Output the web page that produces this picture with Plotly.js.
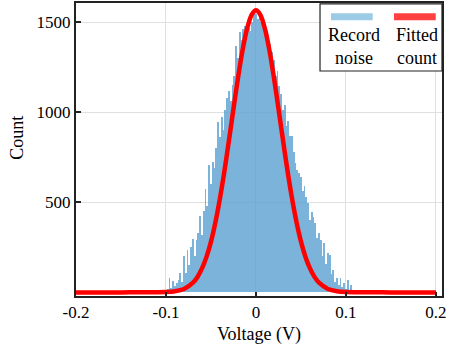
<!DOCTYPE html>
<html>
<head>
<meta charset="utf-8">
<script src="https://cdn.plot.ly/plotly-3.0.1.min.js"></script>
<style>html,body{margin:0;padding:0;background:#fff;}#chart{width:453px;height:347px;}</style>
</head>
<body>
<div id="chart"></div>
<script>
// Histogram bin centers (V) and counts
const binCenters = [
-0.110,-0.108,-0.106,-0.104,-0.102,-0.100,-0.098,-0.096,-0.094,-0.092,
-0.090,-0.088,-0.086,-0.084,-0.082,-0.080,-0.078,-0.076,-0.074,-0.072,
-0.070,-0.068,-0.066,-0.064,-0.062,-0.060,-0.058,-0.056,-0.054,-0.052,
-0.050,-0.048,-0.046,-0.044,-0.042,-0.040,-0.038,-0.036,-0.034,-0.032,
-0.030,-0.028,-0.026,-0.024,-0.022,-0.020,-0.018,-0.016,-0.014,-0.012,
-0.010,-0.008,-0.006,-0.004,-0.002,0.000,0.002,0.004,0.006,0.008,
0.010,0.012,0.014,0.016,0.018,0.020,0.022,0.024,0.026,0.028,
0.030,0.032,0.034,0.036,0.038,0.040,0.042,0.044,0.046,0.048,
0.050,0.052,0.054,0.056,0.058,0.060,0.062,0.064,0.066,0.068,
0.070,0.072,0.074,0.076,0.078,0.080,0.082,0.084,0.086,0.088,
0.090,0.092,0.094,0.096,0.098,0.100,0.102,0.104,0.106,0.108,
0.110,0.112,0.114,0.116,0.118,0.120];
const binCounts = [
5,0,8,12,0,15,20,78,25,63,
35,50,70,107,60,200,110,234,150,250,
295,200,290,330,424,320,451,574,480,708,
600,726,690,800,944,860,975,900,1010,1080,
1120,1060,1150,1200,1367,1300,1444,1400,1460,1480,
1440,1470,1451,1500,1553,1544,1520,1535,1500,1479,
1450,1440,1423,1380,1332,1290,1200,1230,1144,1100,
1014,1040,921,950,870,866,780,719,680,663,
643,560,591,531,496,400,448,420,385,300,
329,290,200,273,160,217,206,100,123,60,
78,40,78,30,50,20,67,15,39,8,
12,5,10,0,6,3];

// Fitted curve points
const fitX = [-0.2,-0.15,-0.1,-0.09,-0.08,-0.07,-0.065,-0.06,-0.055,-0.05,-0.045,-0.04,-0.035,-0.03,-0.025,-0.02,-0.015,-0.01,-0.005,0,
0.005,0.01,0.015,0.02,0.025,0.03,0.035,0.04,0.045,0.05,0.055,0.06,0.065,0.07,0.08,0.09,0.1,0.15,0.2];
const fitY = [0,0,2,6,19,54,86,133,197,282,391,523,676,845,1020,1190,1342,1462,1539,1566,
1539,1462,1342,1190,1020,845,676,523,391,282,197,133,86,54,19,6,2,0,0];

const xTicks = [-0.2,-0.1,0,0.1,0.2];
const xTickText = ['-0.2','-0.1','0','0.1','0.2'];
const yTicks = [500,1000,1500];
const yTickText = ['500','1000','1500'];

const legendNames = ['Record<br>noise','Fitted<br>count'];

const font = 'Liberation Serif, Times New Roman, serif';

const traces = [
  {type:'bar', x:binCenters, y:binCounts, width:0.002,
   marker:{color:'rgba(90,160,210,0.8)', line:{width:0}},
   name:'Record noise', showlegend:false, hoverinfo:'x+y'},
  {type:'scatter', mode:'lines', x:fitX, y:fitY,
   line:{color:'#ff0000', width:4.5, shape:'spline', smoothing:0.8},
   name:'Fitted count', showlegend:false}
];

const layout = {
  width:453, height:347,
  margin:{l:76, r:11, t:3, b:51, pad:0},
  paper_bgcolor:'#ffffff', plot_bgcolor:'#ffffff',
  bargap:0,
  showlegend:false,
  font:{family:font, size:17, color:'#000'},
  xaxis:{
    range:[-0.2,0.2067], tickvals:xTicks, ticktext:xTickText,
    showgrid:true, gridcolor:'#e0e0e0', gridwidth:1, zeroline:false,
    showline:true, linecolor:'#222', linewidth:2, mirror:true,
    ticks:'inside', ticklen:4, tickwidth:2, tickcolor:'#222',
    tickfont:{family:font, size:17, color:'#000'},
    title:{text:'Voltage (V)', font:{family:font, size:18, color:'#000'}, standoff:6}
  },
  yaxis:{
    range:[-20,1606], tickvals:yTicks, ticktext:yTickText,
    showgrid:true, gridcolor:'#e0e0e0', gridwidth:1, zeroline:false,
    showline:true, linecolor:'#222', linewidth:2, mirror:true,
    ticks:'inside', ticklen:5, tickwidth:2, tickcolor:'#222',
    tickfont:{family:font, size:17, color:'#000'}
  },
  shapes:[
    {type:'rect', xref:'paper', yref:'paper', x0:0.6667, x1:1.0, y0:0.768, y1:0.997,
     fillcolor:'#ffffff', line:{color:'#222', width:1.2}, layer:'above'},
    {type:'line', xref:'paper', yref:'paper', x0:0.6967, x1:0.8107, y0:0.9532, y1:0.9532,
     line:{color:'#9ccbe6', width:7}, layer:'above'},
    {type:'line', xref:'paper', yref:'paper', x0:0.8689, x1:0.9828, y0:0.9532, y1:0.9532,
     line:{color:'#ff4040', width:7}, layer:'above'}
  ],
  annotations:[
    {xref:'paper', yref:'paper', x:0.7596, y:0.853, text:legendNames[0], showarrow:false,
     xanchor:'center', yanchor:'middle', font:{family:font, size:18, color:'#000'}},
    {xref:'paper', yref:'paper', x:0.9317, y:0.853, text:legendNames[1], showarrow:false,
     xanchor:'center', yanchor:'middle', font:{family:font, size:18, color:'#000'}},
    {xref:'paper', yref:'paper', x:-0.161, y:0.54, text:'Count', showarrow:false, textangle:-90,
     xanchor:'center', yanchor:'middle', font:{family:font, size:18, color:'#000'}}
  ]
};

Plotly.newPlot('chart', traces, layout, {staticPlot:true, displayModeBar:false});
</script>
</body>
</html>
